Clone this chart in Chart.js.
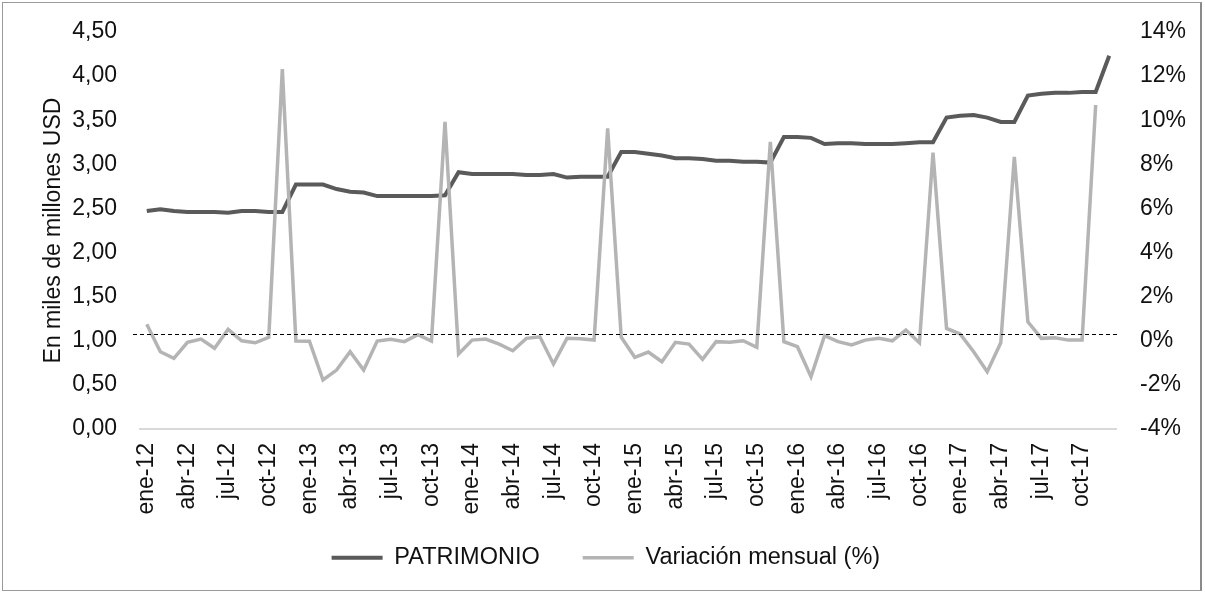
<!DOCTYPE html>
<html lang="es">
<head>
<meta charset="utf-8">
<title>Patrimonio y variación mensual</title>
<script src="https://cdn.jsdelivr.net/npm/chart.js@4/dist/chart.umd.min.js"></script>
<style>
  html, body { margin: 0; padding: 0; background: #ffffff; }
  #wrap { position: relative; width: 1205px; height: 593px; overflow: hidden; }
  #grafico { position: absolute; left: 0; top: 0; }
  #marco {
    position: absolute; left: 2px; top: 2px; width: 1197px; height: 587px;
    border: 1px solid #9a9a9a; border-right: 2px solid #8a8a8a; pointer-events: none;
  }
</style>
</head>
<body>
<div id="wrap">
  <canvas id="grafico" width="1205" height="593"></canvas>
  <div id="marco"></div>
</div>
<script>
// Meses, de enero 2012 a diciembre 2017
const meses = [
  'ene-12','feb-12','mar-12','abr-12','may-12','jun-12','jul-12','ago-12','sep-12','oct-12','nov-12','dic-12',
  'ene-13','feb-13','mar-13','abr-13','may-13','jun-13','jul-13','ago-13','sep-13','oct-13','nov-13','dic-13',
  'ene-14','feb-14','mar-14','abr-14','may-14','jun-14','jul-14','ago-14','sep-14','oct-14','nov-14','dic-14',
  'ene-15','feb-15','mar-15','abr-15','may-15','jun-15','jul-15','ago-15','sep-15','oct-15','nov-15','dic-15',
  'ene-16','feb-16','mar-16','abr-16','may-16','jun-16','jul-16','ago-16','sep-16','oct-16','nov-16','dic-16',
  'ene-17','feb-17','mar-17','abr-17','may-17','jun-17','jul-17','ago-17','sep-17','oct-17','nov-17','dic-17'
];

// Patrimonio, en miles de millones de USD
const patrimonio = [
  2.47, 2.49, 2.47, 2.46, 2.46, 2.46, 2.45, 2.47, 2.47, 2.46, 2.46, 2.77,
  2.77, 2.77, 2.72, 2.69, 2.68, 2.64, 2.64, 2.64, 2.64, 2.64, 2.65, 2.91,
  2.89, 2.89, 2.89, 2.89, 2.88, 2.88, 2.89, 2.85, 2.86, 2.86, 2.86, 3.14,
  3.14, 3.12, 3.10, 3.07, 3.07, 3.06, 3.04, 3.04, 3.03, 3.03, 3.02, 3.31,
  3.31, 3.30, 3.23, 3.24, 3.24, 3.23, 3.23, 3.23, 3.24, 3.25, 3.25, 3.53,
  3.55, 3.56, 3.53, 3.48, 3.48, 3.78, 3.80, 3.81, 3.81, 3.82, 3.82, 4.23
];

// Variación mensual del patrimonio, en %
const variacion = [
  0.75, -0.50, -0.80, -0.07, 0.08, -0.34, 0.52, 0.00, -0.09, 0.16, 12.32, -0.01,
  -0.02, -1.78, -1.33, -0.50, -1.33, -0.01, 0.07, -0.04, 0.28, -0.01, 9.93, -0.60,
  0.03, 0.08, -0.15, -0.45, 0.11, 0.18, -1.05, 0.11, 0.09, 0.03, 9.63, 0.16,
  -0.75, -0.51, -0.95, -0.07, -0.15, -0.84, -0.04, -0.07, 0.00, -0.30, 9.02, -0.04,
  -0.27, -1.63, 0.23, -0.04, -0.19, 0.03, 0.11, 0.00, 0.49, -0.09, 8.53, 0.56,
  0.31, -0.50, -1.40, -0.09, 8.34, 0.86, 0.11, 0.14, 0.03, 0.03, 10.69, null
];

// Línea de referencia punteada sobre el eje derecho (%)
const lineaReferencia = 0.3;

const FUENTE = '"Liberation Sans", Arial, sans-serif';
const TEXTO = '#111111';

const lineaPunteada = {
  id: 'lineaPunteada',
  afterLayout(chart) {
    // las etiquetas del eje X y del eje derecho pueden salir de su caja
    chart.scales.x.bottom = chart.height;
    chart.scales.y1.right = chart.width;
  },
  afterDatasetsDraw(chart) {
    const { ctx, chartArea, scales } = chart;
    const y = Math.round(scales.y1.getPixelForValue(lineaReferencia)) + 0.5;
    ctx.save();
    ctx.strokeStyle = '#000000';
    ctx.lineWidth = 1;
    ctx.setLineDash([4, 3]);
    ctx.beginPath();
    ctx.moveTo(chartArea.left - 7, y);
    ctx.lineTo(chartArea.right + 2, y);
    ctx.stroke();
    ctx.restore();
  }
};

new Chart(document.getElementById('grafico'), {
  type: 'line',
  data: {
    labels: meses,
    datasets: [
      {
        label: 'PATRIMONIO',
        data: patrimonio,
        yAxisID: 'y',
        borderColor: '#5a5a5a',
        backgroundColor: '#5a5a5a',
        borderWidth: 4,
        pointRadius: 0,
        tension: 0,
        order: 1
      },
      {
        label: 'Variación mensual (%)',
        data: variacion,
        yAxisID: 'y1',
        borderColor: '#b4b4b4',
        backgroundColor: '#b4b4b4',
        borderWidth: 3.5,
        pointRadius: 0,
        tension: 0,
        order: 0
      }
    ]
  },
  options: {
    responsive: false,
    animation: false,
    layout: { padding: { left: 24, right: 17.3, top: 32, bottom: 13.5 } },
    plugins: {
      tooltip: { enabled: false },
      legend: {
        position: 'bottom',
        labels: {
          usePointStyle: true,
          pointStyle: 'line',
          pointStyleWidth: 51,
          padding: 43,
          color: TEXTO,
          font: { family: FUENTE, size: 23.5 },
          sort: (a, b) => a.datasetIndex - b.datasetIndex
        }
      }
    },
    scales: {
      x: {
        offset: true,
        grid: { display: false, drawTicks: false },
        border: { display: true, color: '#d9d9d9', width: 2 },
        ticks: {
          autoSkip: false,
          minRotation: 90,
          maxRotation: 90,
          padding: 14,
          color: TEXTO,
          font: { family: FUENTE, size: 23 },
          callback: (v, i) => (i % 3 === 0 ? meses[i] : '')
        },
        afterFit: (axis) => { axis.height = 74; }
      },
      y: {
        position: 'left',
        min: 0,
        max: 4.5,
        grid: { display: false, drawTicks: true, tickLength: 23 },
        border: { display: false },
        ticks: {
          stepSize: 0.5,
          padding: 0,
          color: TEXTO,
          font: { family: FUENTE, size: 23 },
          callback: (v) => v.toFixed(2).replace('.', ',')
        },
        title: {
          display: true,
          text: 'En miles de millones USD',
          color: TEXTO,
          font: { family: FUENTE, size: 23 },
          padding: { top: 16, bottom: 0 }
        },
        afterFit: (axis) => { axis.width = 116; }
      },
      y1: {
        position: 'right',
        min: -4,
        max: 14,
        grid: { display: false, drawTicks: true, tickLength: 24 },
        border: { display: false },
        ticks: {
          stepSize: 2,
          padding: 0,
          color: TEXTO,
          font: { family: FUENTE, size: 23 },
          callback: (v) => v + '%'
        },
        afterFit: (axis) => { axis.width = 71.7; }
      }
    }
  },
  plugins: [lineaPunteada]
});
</script>
</body>
</html>
